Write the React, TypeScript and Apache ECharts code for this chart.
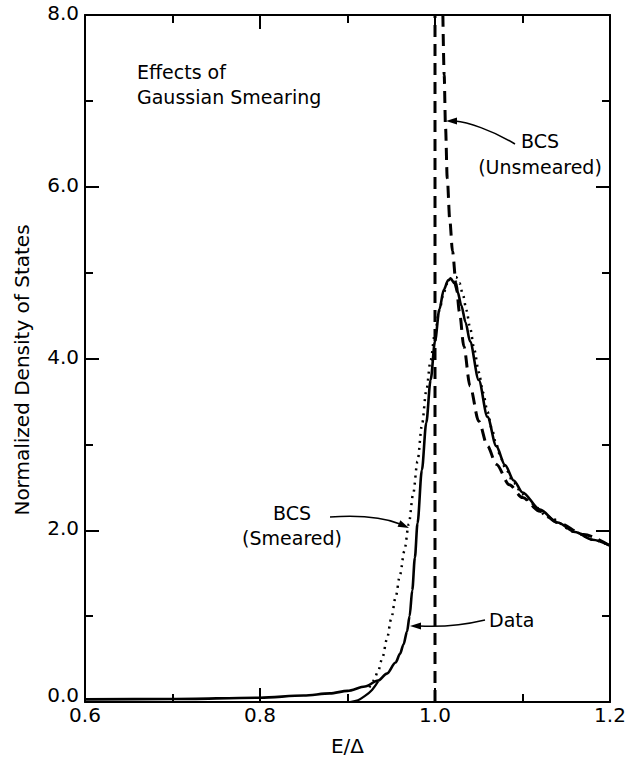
import React, { useEffect, useRef } from "react";
import * as echarts from "echarts";

const FONT = '"DejaVu Sans", "Noto Sans", sans-serif';

// Axis ranges / ticks
const xRange = [0.6, 1.2];
const yRange = [0, 8];
const xInterval = 0.2;
const yInterval = 2;

// Measured data (solid line)
const dataX = [0.6, 0.7, 0.8, 0.85, 0.88, 0.9, 0.92, 0.935, 0.945, 0.955, 0.96, 0.964, 0.968, 0.971, 0.974, 0.977, 0.98, 0.985, 0.99, 0.995, 1.0, 1.005, 1.01, 1.015, 1.018, 1.022, 1.026, 1.03, 1.035, 1.04, 1.05, 1.06, 1.07, 1.08, 1.09, 1.1, 1.12, 1.14, 1.16, 1.18, 1.2];
const dataY = [0.03, 0.035, 0.05, 0.075, 0.1, 0.13, 0.18, 0.25, 0.33, 0.46, 0.56, 0.67, 0.82, 1.0, 1.3, 1.68, 2.08, 2.7, 3.25, 3.75, 4.2, 4.57, 4.8, 4.91, 4.93, 4.88, 4.77, 4.62, 4.42, 4.2, 3.75, 3.32, 2.98, 2.76, 2.58, 2.44, 2.24, 2.09, 1.98, 1.89, 1.82];

// Low-energy tail of the smeared curve (solid)
const tailX = [0.903, 0.912, 0.92, 0.928, 0.935];
const tailY = [0.0, 0.02, 0.07, 0.14, 0.24];

// BCS smeared (dotted)
const smearX = [0.925, 0.93, 0.935, 0.94, 0.945, 0.95, 0.955, 0.96, 0.965, 0.97, 0.975, 0.98, 0.985, 0.99, 0.995, 1.0, 1.005, 1.01, 1.015, 1.02, 1.024, 1.028, 1.032, 1.036, 1.04, 1.045, 1.05, 1.055, 1.06, 1.065, 1.07, 1.075, 1.08, 1.09, 1.1, 1.11, 1.13, 1.16, 1.18, 1.2];
const smearY = [0.17, 0.25, 0.36, 0.52, 0.73, 0.97, 1.22, 1.48, 1.76, 2.07, 2.42, 2.8, 3.22, 3.62, 3.98, 4.3, 4.56, 4.77, 4.9, 4.95, 4.95, 4.88, 4.74, 4.56, 4.36, 4.1, 3.84, 3.6, 3.38, 3.18, 3.0, 2.85, 2.73, 2.55, 2.42, 2.31, 2.15, 1.98, 1.89, 1.82];

// BCS unsmeared (dashed): vertical edge and decaying branch
const edgeX = [1.0, 1.0];
const edgeY = [0.0, 8.0];
const bcsX = [1.009, 1.0105, 1.012, 1.014, 1.017, 1.02, 1.024, 1.028, 1.033, 1.04, 1.05, 1.06, 1.07, 1.085, 1.1, 1.12, 1.14, 1.17, 1.2];
const bcsY = [8.0, 7.3, 6.7, 6.1, 5.6, 5.25, 4.88, 4.54, 4.14, 3.68, 3.27, 2.98, 2.77, 2.53, 2.38, 2.22, 2.09, 1.95, 1.82];

const pairs = (xs: number[], ys: number[]) => xs.map((x, i) => [x, ys[i]]);

const arrow = (
  start: [number, number],
  cp1: [number, number],
  cp2: [number, number],
  end: [number, number],
  tip: [number, number]
) => {
  const dx = tip[0] - end[0];
  const dy = tip[1] - end[1];
  const len = Math.hypot(dx, dy) || 1;
  const ux = dx / len;
  const uy = dy / len;
  const hl = 11;
  const hw = 3.5;
  const bx = tip[0] - ux * hl;
  const by = tip[1] - uy * hl;
  return {
    type: "group",
    children: [
      {
        type: "bezierCurve",
        shape: {
          x1: start[0], y1: start[1],
          cpx1: cp1[0], cpy1: cp1[1],
          cpx2: cp2[0], cpy2: cp2[1],
          x2: end[0], y2: end[1],
        },
        style: { stroke: "#000", lineWidth: 1.5, fill: "none" },
      },
      {
        type: "polygon",
        shape: {
          points: [
            [tip[0], tip[1]],
            [bx - uy * hw, by + ux * hw],
            [bx + uy * hw, by - ux * hw],
          ],
        },
        style: { fill: "#000" },
      },
    ],
  };
};

export default function App() {
  const ref = useRef<HTMLDivElement>(null);

  useEffect(() => {
    if (!ref.current) return;
    const chart = echarts.init(ref.current, null, { renderer: "svg" });

    const axisCommon = {
      axisLine: { show: true, onZero: false, lineStyle: { color: "#000", width: 2 } },
      splitLine: { show: false },
      axisTick: { show: true, inside: true, length: 14, lineStyle: { color: "#000", width: 2 } },
      minorTick: { show: true, splitNumber: 2, length: 8, lineStyle: { color: "#000", width: 2 } },
    };

    const option: any = {
      animation: false,
      backgroundColor: "#fff",
      grid: { left: 85, right: 26, top: 15, bottom: 57 },
      xAxis: [
        {
          type: "value",
          min: xRange[0],
          max: xRange[1],
          interval: xInterval,
          position: "bottom",
          ...axisCommon,
          axisLabel: {
            color: "#000",
            fontFamily: FONT,
            fontSize: 20,
            lineHeight: 16,
            margin: 5,
            formatter: (v: number) => v.toFixed(1),
          },
          name: "E/\u0394",
          nameLocation: "middle",
          nameGap: 34,
          nameTextStyle: { color: "#000", fontFamily: FONT, fontSize: 20 },
        },
        {
          type: "value",
          min: xRange[0],
          max: xRange[1],
          interval: xInterval,
          position: "top",
          ...axisCommon,
          axisLabel: { show: false },
        },
      ],
      yAxis: [
        {
          type: "value",
          min: yRange[0],
          max: yRange[1],
          interval: yInterval,
          position: "left",
          ...axisCommon,
          axisLabel: {
            color: "#000",
            fontFamily: FONT,
            fontSize: 20,
            lineHeight: 16,
            padding: [0, 0, 4, 0],
            margin: 6,
            formatter: (v: number) => (v === 0 ? "{z|0.0}" : v.toFixed(1)),
            rich: {
              z: {
                fontFamily: FONT,
                fontSize: 20,
                lineHeight: 16,
                color: "#000",
                padding: [0, 0, 10, 0],
              },
            },
          },
        },
        {
          type: "value",
          min: yRange[0],
          max: yRange[1],
          interval: yInterval,
          position: "right",
          ...axisCommon,
          axisLabel: { show: false },
        },
      ],
      series: [
        {
          name: "BCS (Unsmeared) edge",
          type: "line",
          data: pairs(edgeX, edgeY),
          showSymbol: false,
          clip: true,
          lineStyle: { color: "#000", width: 3, type: [12, 7] },
        },
        {
          name: "BCS (Unsmeared)",
          type: "line",
          data: pairs(bcsX, bcsY),
          showSymbol: false,
          clip: true,
          smooth: 0.3,
          smoothMonotone: "x",
          lineStyle: { color: "#000", width: 3, type: [12, 7] },
        },
        {
          name: "BCS (Smeared)",
          type: "line",
          data: pairs(smearX, smearY),
          showSymbol: false,
          clip: true,
          smooth: 0.3,
          smoothMonotone: "x",
          lineStyle: { color: "#000", width: 2.5, type: [2, 5] },
        },
        {
          name: "Smeared tail",
          type: "line",
          data: pairs(tailX, tailY),
          showSymbol: false,
          clip: true,
          smooth: 0.3,
          lineStyle: { color: "#000", width: 2.2 },
        },
        {
          name: "Data",
          type: "line",
          data: pairs(dataX, dataY),
          showSymbol: false,
          clip: true,
          smooth: 0.3,
          smoothMonotone: "x",
          lineStyle: { color: "#000", width: 2.6 },
        },
      ],
      graphic: [
        {
          type: "text",
          x: 22,
          y: 370,
          rotation: Math.PI / 2,
          style: {
            text: "Normalized Density of States",
            font: `20px ${FONT}`,
            fill: "#000",
            align: "center",
            verticalAlign: "middle",
          },
        },
        {
          type: "text",
          left: 137,
          top: 59,
          style: {
            text: "Effects of\nGaussian Smearing",
            font: `19px ${FONT}`,
            fill: "#000",
            lineHeight: 25,
          },
        },
        {
          type: "text",
          x: 540,
          y: 154,
          style: {
            text: "BCS\n(Unsmeared)",
            font: `19px ${FONT}`,
            fill: "#000",
            align: "center",
            verticalAlign: "middle",
            lineHeight: 26,
          },
        },
        {
          type: "text",
          x: 292,
          y: 525,
          style: {
            text: "BCS\n(Smeared)",
            font: `19px ${FONT}`,
            fill: "#000",
            align: "center",
            verticalAlign: "middle",
            lineHeight: 25,
          },
        },
        {
          type: "text",
          x: 489,
          y: 620,
          style: {
            text: "Data",
            font: `19px ${FONT}`,
            fill: "#000",
            align: "left",
            verticalAlign: "middle",
          },
        },
        arrow([515, 144], [492, 130], [467, 122], [455, 121], [446, 121]),
        arrow([330, 517], [360, 515], [385, 518], [400, 524], [409, 528]),
        arrow([485, 620], [460, 626], [438, 627], [419, 626], [410, 626]),
      ],
    };

    chart.setOption(option);
    return () => chart.dispose();
  }, []);

  return (
    <div
      ref={ref}
      style={{ position: "fixed", left: 0, top: 0, width: 636, height: 761, background: "#fff" }}
    />
  );
}
